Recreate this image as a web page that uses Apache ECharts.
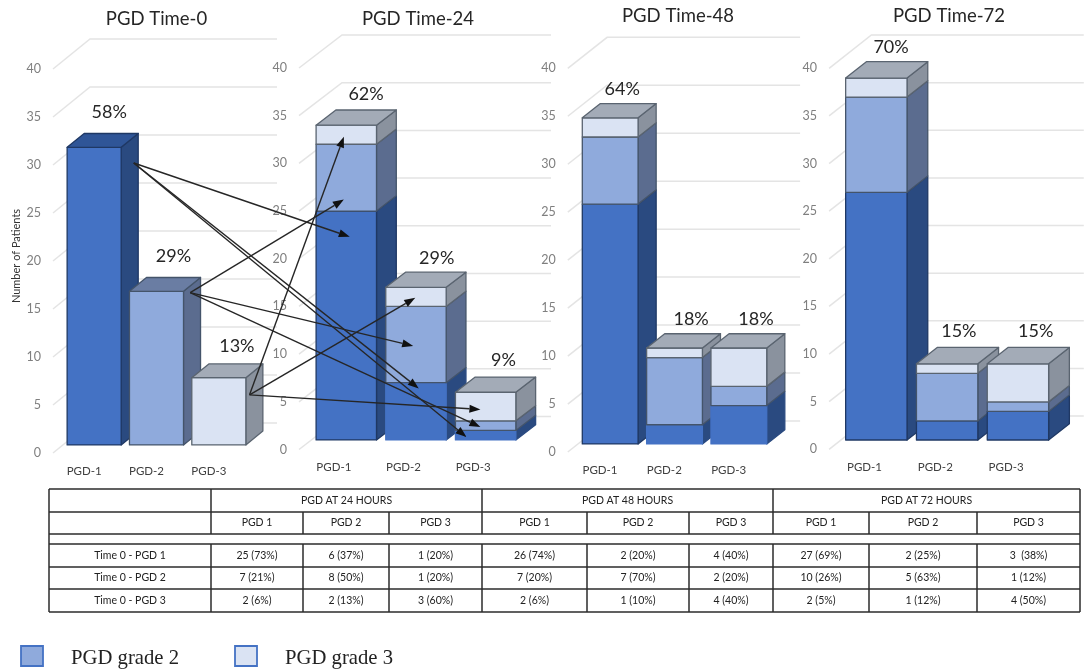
<!DOCTYPE html>
<html>
<head>
<meta charset="utf-8">
<title>PGD Time</title>
<script src="https://cdn.jsdelivr.net/npm/echarts@6/dist/echarts.min.js"></script>
<style>
    html, body { margin: 0; background: #fff; }
    #main { width: 1091px; height: 672px; }
</style>
</head>
<body>
<div id="main"></div>
<script>
const categories = ['PGD-1', 'PGD-2', 'PGD-3']
const yTicks = [0, 5, 10, 15, 20, 25, 30, 35, 40]
const panelTitles = ['PGD Time-0', 'PGD Time-24', 'PGD Time-48', 'PGD Time-72']

// values per bar, one list per colour of the stack
const time0Grade1 = [31, 0, 0]
const time0Grade2 = [0, 16, 0]
const time0Grade3 = [0, 0, 7]
const time24Grade1 = [24, 6, 1]
const time24Grade2 = [7, 8, 1]
const time24Grade3 = [2, 2, 3]
const time48Grade1 = [25, 2, 4]
const time48Grade2 = [7, 7, 2]
const time48Grade3 = [2, 1, 4]
const time72Grade1 = [26, 2, 3]
const time72Grade2 = [10, 5, 1]
const time72Grade3 = [2, 1, 4]

const time0Pct = ['58%', '29%', '13%']
const time24Pct = ['62%', '29%', '9%']
const time48Pct = ['64%', '18%', '18%']
const time72Pct = ['70%', '15%', '15%']

// arrows go from the bars of Time-0 to the stacks of Time-24
const arrowFromValue = [28.3, 15.3, 4.9]
const arrowFromDepth = [0.61, 0.45, 0.37]
const arrowToValue = [
    [21.3, 5.4, 0.3],
    [25.2, 9.85, 1.35],
    [31.8, 14.9, 3.2]
]
const arrowToShift = [
    [0.05, 0.04, -0.275],
    [-0.035, -0.04, -0.075],
    [-0.035, -0.01, -0.075]
]

const tableGroups = ['PGD AT 24 HOURS', 'PGD AT 48 HOURS', 'PGD AT 72 HOURS']
const tableSubHeads = ['PGD 1', 'PGD 2', 'PGD 3']
const tableRowNames = ['Time 0 - PGD 1', 'Time 0 - PGD 2', 'Time 0 - PGD 3']
const tableRow1 = ['25 (73%)', '6 (37%)', '1 (20%)', '26 (74%)', '2 (20%)', '4 (40%)', '27 (69%)', '2 (25%)', '3  (38%)']
const tableRow2 = ['7 (21%)', '8 (50%)', '1 (20%)', '7 (20%)', '7 (70%)', '2 (20%)', '10 (26%)', '5 (63%)', '1 (12%)']
const tableRow3 = ['2 (6%)', '2 (13%)', '3 (60%)', '2 (6%)', '1 (10%)', '4 (40%)', '2 (5%)', '1 (12%)', '4 (50%)']

const legendNames = ['PGD grade 2', 'PGD grade 3']

const frontColor = ['#4472C4', '#8FAADC', '#DAE3F3']
const sideColor = ['#2A4A80', '#5B6C8F', '#8A929E']
const topColor = ['#2F5597', '#6A7DA3', '#A3ABB7']
const edgeColor = ['#1F3864', '#44546A', '#5A6470']
const gridColor = '#E4E4E4'
const barFrac = 0.867

// dx, dy: how far the back wall sits from the axis plane. front, back: where the bars stand in that depth
// softBlue: bars whose blue part has no dark outline in the picture
const panels = [
    { left: 53, top: 69, width: 187, height: 384, dx: 37, dy: 30, front: 0.27, back: 0.73,
        stacks: [time0Grade1, time0Grade2, time0Grade3], pct: time0Pct, softBlue: [],
        pctShift: [[-2, 21], [0, 21], [1, 18]] },
    { left: 299, top: 68, width: 209, height: 381.5, dx: 43, dy: 33, front: 0.29, back: 0.75,
        stacks: [time24Grade1, time24Grade2, time24Grade3], pct: time24Pct, softBlue: [1, 2],
        pctShift: [[0, 16], [1, 14], [-2, 17]] },
    { left: 567.8, top: 68.3, width: 193, height: 383.7, dx: 39.3, dy: 31, front: 0.26, back: 0.72,
        stacks: [time48Grade1, time48Grade2, time48Grade3], pct: time48Pct, softBlue: [1, 2],
        pctShift: [[-6, 14], [-1.5, 15], [-1, 15]] },
    { left: 829.1, top: 68.3, width: 212.4, height: 381, dx: 42.3, dy: 33.3, front: 0.28, back: 0.77,
        stacks: [time72Grade1, time72Grade2, time72Grade3], pct: time72Pct, softBlue: [],
        pctShift: [[-6, 15], [-9, 16], [-3, 16]] }
]
const titleCenters = [[156.5, 19], [418, 19], [678, 16], [949, 16]]

const chart = echarts.init(document.getElementById('main'))

const wallSeries = (panel, idx) => ({
    type: 'custom',
    xAxisIndex: idx,
    yAxisIndex: idx,
    z: 1,
    silent: true,
    clip: false,
    data: yTicks.map(t => [0, t]),
    encode: { x: 0, y: 1 },
    renderItem: (params, api) => {
        const y = api.coord([0, api.value(1)])[1]
        const box = params.coordSys
        return {
            type: 'polyline',
            shape: { points: [
                [box.x, y],
                [box.x + panel.dx, y - panel.dy],
                [box.x + box.width + panel.dx, y - panel.dy]
            ] },
            style: { fill: 'none', stroke: gridColor, lineWidth: 1.5 }
        }
    }
})

const barSeries = (panel, idx) => {
    const data = []
    categories.forEach((c, cat) => {
        let base = 0
        const total = panel.stacks.reduce((sum, s) => sum + s[cat], 0)
        panel.stacks.forEach((s, grade) => {
            if (s[cat] > 0) {
                const end = base + s[cat]
                data.push([cat, base, end, grade, end === total ? 1 : 0])
                base = end
            }
        })
    })
    return {
        type: 'custom',
        xAxisIndex: idx,
        yAxisIndex: idx,
        z: 2,
        silent: true,
        clip: false,
        data: data,
        encode: { x: 0, y: [1, 2] },
        renderItem: (params, api) => {
            const cat = api.value(0)
            const grade = api.value(3)
            const band = panel.width / categories.length
            const half = band * barFrac / 2
            const bottom = api.coord([cat, api.value(1)])
            const upper = api.coord([cat, api.value(2)])
            const fx = panel.dx * panel.front
            const fy = panel.dy * panel.front
            const bx = panel.dx * panel.back
            const by = panel.dy * panel.back
            const x0 = bottom[0] - half + fx
            const x1 = bottom[0] + half + fx
            const x2 = bottom[0] + half + bx
            const x3 = bottom[0] - half + bx
            const yb = bottom[1] - fy
            const yt = upper[1] - fy
            const yb2 = bottom[1] - by
            const yt2 = upper[1] - by
            const soft = grade === 0 && panel.softBlue.includes(cat)
            const edge = { stroke: edgeColor[grade], lineWidth: 1.3, lineJoin: 'round' }
            const children = [
                { type: 'polygon', shape: { points: [[x1, yb], [x2, yb2], [x2, yt2], [x1, yt]] },
                    style: { fill: sideColor[grade], ...edge, stroke: soft ? sideColor[grade] : edge.stroke } },
                { type: 'rect', shape: { x: x0, y: yt, width: x1 - x0, height: yb - yt },
                    style: { fill: frontColor[grade], ...edge, stroke: soft ? frontColor[grade] : edge.stroke } }
            ]
            if (api.value(4)) {
                const shift = panel.pctShift[cat]
                children.push({ type: 'polygon', shape: { points: [[x0, yt], [x1, yt], [x2, yt2], [x3, yt2]] },
                    style: { fill: topColor[grade], ...edge } })
                children.push({ type: 'text', style: {
                    x: (x3 + x2) / 2 + shift[0],
                    y: yt2 - shift[1],
                    text: panel.pct[cat],
                    fill: '#262626',
                    font: '18px Lato',
                    align: 'center',
                    verticalAlign: 'middle'
                } })
            }
            return { type: 'group', children: children }
        }
    }
}

// screen point of a value in a panel, frac is a share of the band, depth runs from axis plane to back wall
const pointAt = (idx, cat, frac, value, depth) => {
    const panel = panels[idx]
    const p = chart.convertToPixel({ gridIndex: idx }, [cat, value])
    const band = panel.width / categories.length
    return [p[0] + frac * band + depth * panel.dx, p[1] - depth * panel.dy]
}

const arrowData = []
arrowToValue.forEach((targets, from) => {
    targets.forEach((v, to) => {
        arrowData.push([from, arrowFromValue[from], arrowFromDepth[from], to, v, arrowToShift[from][to]])
    })
})

const arrowSeries = {
    type: 'custom',
    coordinateSystem: 'none',
    z: 6,
    silent: true,
    data: arrowData,
    renderItem: (params, api) => {
        const from = api.value(0)
        const to = api.value(3)
        const a = pointAt(0, from, barFrac / 2, api.value(1), api.value(2))
        const b = pointAt(1, to, api.value(5), api.value(4), panels[1].front)
        const len = Math.hypot(b[0] - a[0], b[1] - a[1])
        const ux = (b[0] - a[0]) / len
        const uy = (b[1] - a[1]) / len
        const headLen = 11
        const headHalf = 4
        const neck = [b[0] - ux * headLen, b[1] - uy * headLen]
        return {
            type: 'group',
            children: [
                { type: 'line', shape: { x1: a[0], y1: a[1], x2: neck[0], y2: neck[1] },
                    style: { stroke: '#262626', lineWidth: 1.4 } },
                { type: 'polygon', shape: { points: [
                    b,
                    [neck[0] - uy * headHalf, neck[1] + ux * headHalf],
                    [neck[0] + uy * headHalf, neck[1] - ux * headHalf]
                ] }, style: { fill: '#111' } }
            ]
        }
    }
}

// table under the charts
const colX = [49, 211, 303, 389, 482, 587, 689, 773, 869, 977, 1080]
const rowY = [489, 512, 534, 544, 567, 589, 612]
const tableFont = '10.5px Lato'
const tableGraphic = () => {
    const out = []
    const line = (x1, y1, x2, y2) => out.push({
        type: 'line', silent: true, z: 3,
        shape: { x1, y1, x2, y2 },
        style: { stroke: '#2B2B2B', lineWidth: 1.5 }
    })
    const text = (x, y, str) => out.push({
        type: 'text', silent: true, z: 3,
        style: { x, y, text: str, font: tableFont, fill: '#222', textAlign: 'center', textVerticalAlign: 'middle' }
    })
    rowY.forEach(y => line(colX[0], y, colX[10], y))
    colX.forEach((x, i) => {
        const isGroupLine = i % 3 === 1 || i === 0 || i === 10
        line(x, isGroupLine ? rowY[0] : rowY[1], x, rowY[2])
        line(x, rowY[3], x, rowY[6])
    })
    line(colX[0], rowY[2], colX[0], rowY[3])
    line(colX[10], rowY[2], colX[10], rowY[3])
    tableGroups.forEach((g, i) => {
        text((colX[1 + i * 3] + colX[4 + i * 3]) / 2, (rowY[0] + rowY[1]) / 2, g)
        tableSubHeads.forEach((h, j) => {
            text((colX[1 + i * 3 + j] + colX[2 + i * 3 + j]) / 2, (rowY[1] + rowY[2]) / 2, h)
        })
    })
    const rows = [tableRow1, tableRow2, tableRow3]
    rows.forEach((row, r) => {
        const cy = (rowY[3 + r] + rowY[4 + r]) / 2
        text((colX[0] + colX[1]) / 2, cy, tableRowNames[r])
        row.forEach((cell, c) => text((colX[1 + c] + colX[2 + c]) / 2, cy, cell))
    })
    return out
}

const legendGraphic = () => {
    const out = []
    const boxX = [21, 235]
    const textX = [71, 285]
    legendNames.forEach((name, i) => {
        out.push({
            type: 'rect', silent: true,
            shape: { x: boxX[i], y: 646, width: 22, height: 20 },
            style: { fill: frontColor[i + 1], stroke: frontColor[0], lineWidth: 1.8 }
        })
        out.push({
            type: 'text', silent: true,
            style: { x: textX[i], y: 659, text: name, font: '20.7px "Liberation Serif"', fill: '#222', textVerticalAlign: 'middle' }
        })
    })
    return out
}

const option = {
    backgroundColor: '#fff',
    animation: false,
    title: panelTitles.map((t, i) => ({
        text: t,
        left: titleCenters[i][0],
        top: titleCenters[i][1] - 9,
        padding: 0,
        textAlign: 'center',
        textStyle: { fontFamily: 'Lato', fontSize: 18.5, fontWeight: 'normal', color: '#262626' }
    })),
    grid: panels.map(p => ({ left: p.left, top: p.top, width: p.width, height: p.height })),
    xAxis: panels.map((p, i) => ({
        type: 'category',
        gridIndex: i,
        data: categories,
        axisLine: { show: false },
        axisTick: { show: false },
        axisLabel: { fontFamily: 'Lato', fontSize: 11.5, color: '#404040', margin: 12, interval: 0 }
    })),
    yAxis: panels.map((p, i) => ({
        type: 'value',
        gridIndex: i,
        min: 0,
        max: 40,
        interval: 5,
        name: i === 0 ? 'Number of Patients' : '',
        nameLocation: 'middle',
        nameGap: 31,
        nameTextStyle: { fontFamily: 'Lato', fontSize: 11, color: '#333', padding: [0, 0, 0, 10] },
        axisLine: { show: false },
        axisTick: { show: false },
        splitLine: { show: false },
        axisLabel: { fontFamily: 'Lato', fontSize: 12.5, color: '#7F7F7F', margin: 12 }
    })),
    graphic: { elements: [...tableGraphic(), ...legendGraphic()] },
    series: [
        ...panels.map(wallSeries),
        ...panels.map(barSeries),
        arrowSeries
    ]
}

chart.setOption(option)
</script>
</body>
</html>
